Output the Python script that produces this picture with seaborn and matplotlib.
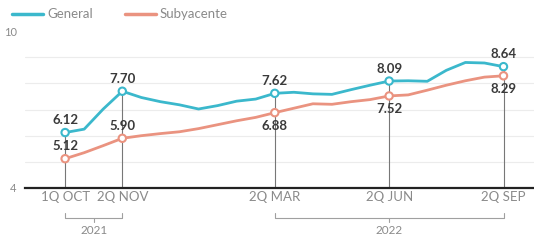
import pandas as pd
import seaborn as sns
import matplotlib.pyplot as plt
import matplotlib.transforms as mtransforms

# fortnightly data, 1Q Oct 2021 .. 2Q Sep 2022
periods = list(range(24))
general = [6.12, 6.25, 7.02, 7.70, 7.46, 7.30, 7.18, 7.02, 7.15, 7.32, 7.40, 7.62,
           7.66, 7.60, 7.58, 7.76, 7.93, 8.09, 8.10, 8.08, 8.50, 8.80, 8.78, 8.64]
subyacente = [5.12, 5.35, 5.62, 5.90, 6.00, 6.08, 6.15, 6.27, 6.42, 6.57, 6.70, 6.88,
              7.05, 7.22, 7.20, 7.30, 7.38, 7.52, 7.56, 7.74, 7.93, 8.10, 8.24, 8.29]
marked = [0, 3, 11, 17, 23]
tick_labels = ["1Q OCT", "2Q NOV", "2Q MAR", "2Q JUN", "2Q SEP"]
years = ["2021", "2022"]
year_spans = [(0, 3), (11, 23)]

BLUE = "#3bb8cc"
ORANGE = "#ea9380"
GREY = "#8a8a8a"

df = pd.DataFrame({"periodo": periods * 2,
                   "valor": general + subyacente,
                   "serie": ["General"] * 24 + ["Subyacente"] * 24})
pts = df[df["periodo"].isin(marked)]

sns.set_style("white")
plt.rcParams["font.family"] = ["Lato", "DejaVu Sans"]

fig = plt.figure(figsize=(5.34, 2.41), dpi=100)
ax = fig.add_axes([0.047, 0.22, 0.953, 0.651])

for y in [5, 6, 7, 8, 9]:
    ax.axhline(y, color="#ececec", lw=0.8, zorder=0)

# guide lines from the upper marker down to the axis
for i in marked:
    ax.plot([i, i], [4, max(general[i], subyacente[i])], color="#777777", lw=0.8, zorder=1)

sns.lineplot(data=df, x="periodo", y="valor", hue="serie", palette=[BLUE, ORANGE],
             lw=2, ax=ax, legend=False, zorder=2)
sns.scatterplot(data=pts, x="periodo", y="valor", hue="serie", palette=[BLUE, ORANGE],
                s=28, linewidth=1.5, ax=ax, legend=False, zorder=3)
# seaborn colours the face via hue; move it to the edge, faces white
for coll in ax.collections:
    coll.set_edgecolors(coll.get_facecolors())
    coll.set_facecolor("white")
    coll.set_zorder(3)

lab = dict(fontsize=9.5, fontweight="bold", color="#3a3a3a", ha="center")
for i in marked:
    ax.annotate(f"{general[i]:.2f}", (i, general[i]), xytext=(0, 4.5),
                textcoords="offset points", va="bottom", **lab)
for i in marked:
    if i in (0, 3):
        ax.annotate(f"{subyacente[i]:.2f}", (i, subyacente[i]), xytext=(0, 4.5),
                    textcoords="offset points", va="bottom", **lab)
    else:
        ax.annotate(f"{subyacente[i]:.2f}", (i, subyacente[i]), xytext=(0, -5),
                    textcoords="offset points", va="top", **lab)

ax.set_xlim(-2.1, 24.6)
ax.set_ylim(4, 10)
ax.set_xticks(marked)
ax.set_xticklabels(tick_labels, color=GREY, fontsize=9.5)
ax.set_yticks([4, 10])
ax.set_yticklabels(["4", "10"], color=GREY, fontsize=8)
ax.tick_params(length=0, pad=2)
ax.tick_params(axis="y", pad=6)
ax.set_xlabel("")
ax.set_ylabel("")
for s in ["top", "right", "left"]:
    ax.spines[s].set_visible(False)
ax.spines["bottom"].set_linewidth(1.6)
ax.spines["bottom"].set_color("#222222")

# year brackets
tr = mtransforms.blended_transform_factory(ax.transData, fig.transFigure)
yb = 1 - 218 / 241
for (a, b), yr in zip(year_spans, years):
    ax.plot([a, a, b, b], [yb + 0.022, yb, yb, yb + 0.022], color="#a0a0a0", lw=0.8,
            transform=tr, clip_on=False)
    mid = (a + b) / 2
    ax.plot([mid, mid], [yb, yb - 0.015], color="#a0a0a0", lw=0.8, transform=tr, clip_on=False)
    ax.text(mid, yb - 0.028, yr, transform=tr, ha="center", va="top", color=GREY, fontsize=8.5)

# legend
fig.lines.append(plt.Line2D([12 / 534, 43 / 534], [0.94, 0.94], color=BLUE, lw=2.5,
                            transform=fig.transFigure))
fig.text(47 / 534, 0.94, "General", color=GREY, fontsize=9.5, va="center")
fig.lines.append(plt.Line2D([125 / 534, 156 / 534], [0.94, 0.94], color=ORANGE, lw=2.5,
                            transform=fig.transFigure))
fig.text(160 / 534, 0.94, "Subyacente", color=GREY, fontsize=9.5, va="center")

fig.savefig("out.png", dpi=100)
